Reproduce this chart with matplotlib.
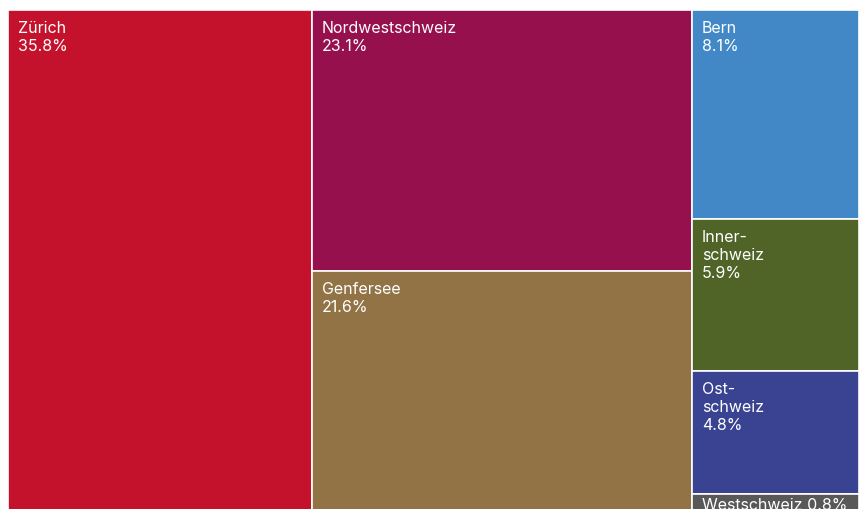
import matplotlib.pyplot as plt
from matplotlib.patches import Rectangle

# treemap data: three columns, boxes stacked top to bottom
columns = [
    ["Zürich"],
    ["Nordwestschweiz", "Genfersee"],
    ["Bern", "Innerschweiz", "Ostschweiz", "Westschweiz"],
]
labels = {
    "Zürich": "Zürich",
    "Nordwestschweiz": "Nordwestschweiz",
    "Genfersee": "Genfersee",
    "Bern": "Bern",
    "Innerschweiz": "Inner-\nschweiz",
    "Ostschweiz": "Ost-\nschweiz",
    "Westschweiz": "Westschweiz",
}
shares = {
    "Zürich": 35.8,
    "Nordwestschweiz": 23.1,
    "Genfersee": 21.6,
    "Bern": 8.1,
    "Innerschweiz": 5.9,
    "Ostschweiz": 4.8,
    "Westschweiz": 0.8,
}
colors = {
    "Zürich": "#C4122D",
    "Nordwestschweiz": "#96104E",
    "Genfersee": "#917346",
    "Bern": "#4287C6",
    "Innerschweiz": "#506428",
    "Ostschweiz": "#3A4292",
    "Westschweiz": "#585858",
}

plt.rcParams['font.family'] = ['Inter', 'DejaVu Sans']

W, H = 859, 509
fig = plt.figure(figsize=(W / 100, H / 100), dpi=100)
# plot area: left 8px, top 10px, runs a little past the bottom edge
ax = fig.add_axes([8 / W, -6 / H, 851 / W, 505 / H])
total = sum(shares.values())
ax.set_xlim(0, total)
ax.set_ylim(0, 1)
ax.axis('off')

x0 = 0
for col in columns:
    colsum = sum(shares[n] for n in col)
    y_top = 1.0
    for name in col:
        h = shares[name] / colsum
        ax.add_patch(Rectangle((x0, y_top - h), colsum, h,
                               facecolor=colors[name], edgecolor='white', linewidth=1.2))
        if name == "Westschweiz":
            txt = f"{labels[name]} {shares[name]:.1f}%"
            pad_y = -2.5
        else:
            txt = f"{labels[name]}\n{shares[name]:.1f}%"
            pad_y = -8
        ax.annotate(txt, xy=(x0, y_top), xytext=(7, pad_y), textcoords='offset points',
                    ha='left', va='top', color='white', fontsize=11.5, linespacing=1.25,
                    annotation_clip=False)
        y_top -= h
    x0 += colsum

fig.savefig("out.png", dpi=100)
